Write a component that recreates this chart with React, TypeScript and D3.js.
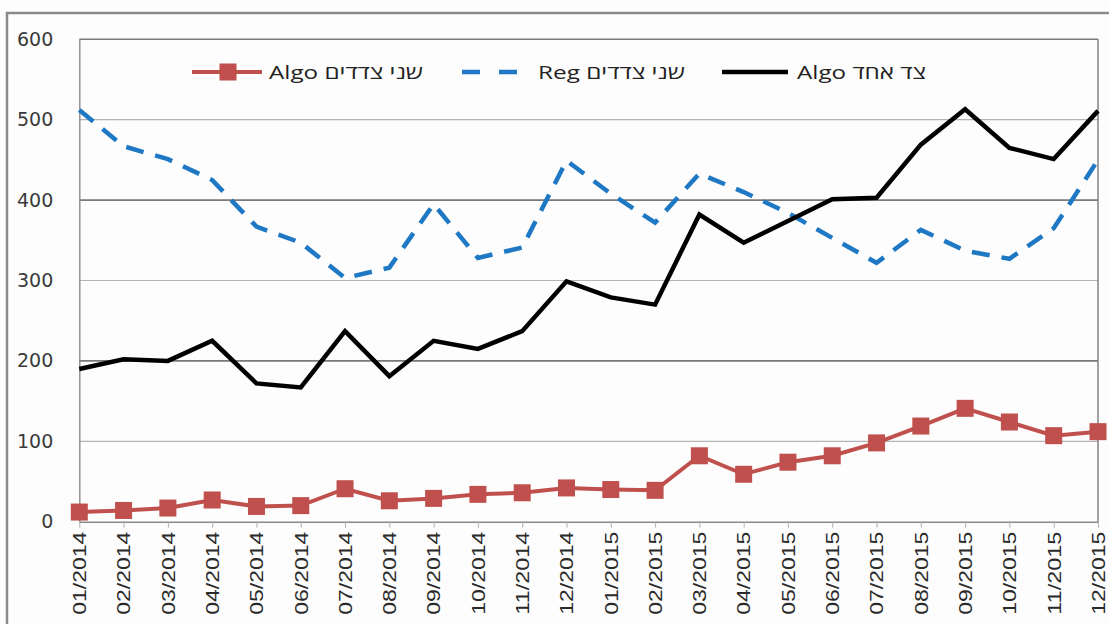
import React, { useRef, useEffect } from 'react';
import * as d3 from 'd3';

const months = [
  '01/2014', '02/2014', '03/2014', '04/2014', '05/2014', '06/2014',
  '07/2014', '08/2014', '09/2014', '10/2014', '11/2014', '12/2014',
  '01/2015', '02/2015', '03/2015', '04/2015', '05/2015', '06/2015',
  '07/2015', '08/2015', '09/2015', '10/2015', '11/2015', '12/2015',
];

// שני צדדים Algo (red, squares)
const algoTwoSides = [12, 14, 17, 27, 19, 20, 41, 26, 29, 34, 36, 42, 40, 39, 82, 59, 74, 82, 98, 119, 141, 124, 107, 112];
// שני צדדים Reg (blue, dashed)
const regTwoSides = [512, 467, 451, 425, 367, 347, 303, 316, 395, 328, 341, 449, 408, 372, 433, 410, 384, 353, 322, 363, 337, 327, 365, 450];
// צד אחד Algo (black)
const algoOneSide = [190, 202, 200, 225, 172, 167, 237, 181, 225, 215, 237, 299, 279, 270, 382, 347, 374, 401, 403, 469, 513, 465, 451, 511];

const yTicks = [0, 100, 200, 300, 400, 500, 600];

const legendLabels = ['Algo שני צדדים', 'Reg שני צדדים', 'Algo צד אחד'];

const width = 1109;
const height = 624;
const margin = { top: 39.3, right: 11, bottom: 102.3, left: 79.3 };

const RED = '#c0504d';
const BLUE = '#1f78c4';

const App = () => {
  const svgRef = useRef<SVGSVGElement>(null);

  useEffect(() => {
    const root = d3.select(svgRef.current);
    root.selectAll('*').remove();

    root.append('rect').attr('width', width).attr('height', height).attr('fill', '#fdfdfd');

    // outer chart frame
    root.append('rect')
      .attr('x', 7).attr('y', 13)
      .attr('width', width + 20).attr('height', height + 20)
      .attr('fill', 'none')
      .attr('stroke', '#8a8a8a')
      .attr('stroke-width', 2.5);

    const w = width - margin.left - margin.right;
    const h = height - margin.top - margin.bottom;

    const x = d3.scalePoint<string>().domain(months).range([0, w]);
    const y = d3.scaleLinear().domain([0, 600]).range([h, 0]);

    const svg = root.append('g').attr('transform', `translate(${margin.left},${margin.top})`);

    // gridlines
    svg.append('g')
      .selectAll('line')
      .data(yTicks.filter(t => t > 0))
      .enter().append('line')
      .attr('x1', 0).attr('x2', w)
      .attr('y1', d => y(d)).attr('y2', d => y(d))
      .attr('stroke', d => (d === 400 || d === 200 || d === 600 ? '#7a7a7a' : '#b4b4b4'))
      .attr('stroke-width', d => (d === 400 || d === 200 || d === 600 ? 1.6 : 1.2));

    // right border of plot
    svg.append('line')
      .attr('x1', w).attr('x2', w).attr('y1', 0).attr('y2', h)
      .attr('stroke', '#7a7a7a').attr('stroke-width', 1.4);

    // y axis
    const yAxis = d3.axisLeft(y).tickValues(yTicks).tickSize(0).tickPadding(26);
    const yg = svg.append('g').call(yAxis);
    yg.select('.domain').attr('stroke', '#8a8a8a').attr('stroke-width', 1.4);
    yg.selectAll('text')
      .attr('font-family', 'DejaVu Sans, Verdana, sans-serif')
      .attr('font-size', 19)
      .attr('fill', '#3a3a3a');

    // x axis
    const xAxis = d3.axisBottom(x).tickSize(6).tickSizeOuter(0).tickPadding(0);
    const xg = svg.append('g').attr('transform', `translate(0,${h})`).call(xAxis);
    xg.select('.domain').attr('stroke', '#8a8a8a').attr('stroke-width', 1.4);
    xg.selectAll('.tick line').attr('stroke', '#b0b0b0');
    xg.selectAll('text')
      .attr('font-family', 'Liberation Sans, Arial, sans-serif')
      .attr('font-size', 18)
      .attr('fill', '#2a2a2a')
      .attr('text-anchor', 'end')
      .attr('dy', '0.35em')
      .attr('transform', 'translate(0,10) rotate(-90)')
      .attr('x', 0)
      .attr('y', 0)
      .attr('textLength', 83)
      .attr('lengthAdjust', 'spacingAndGlyphs');

    const line = d3.line<number>()
      .x((_, i) => x(months[i]) as number)
      .y(d => y(d));

    svg.append('path')
      .datum(regTwoSides)
      .attr('d', line)
      .attr('fill', 'none')
      .attr('stroke', BLUE)
      .attr('stroke-width', 4.5)
      .attr('stroke-dasharray', '18,12');

    svg.append('path')
      .datum(algoOneSide)
      .attr('d', line)
      .attr('fill', 'none')
      .attr('stroke', '#000')
      .attr('stroke-width', 4.5);

    svg.append('path')
      .datum(algoTwoSides)
      .attr('d', line)
      .attr('fill', 'none')
      .attr('stroke', RED)
      .attr('stroke-width', 4);

    const sq = 17;
    svg.append('g')
      .selectAll('rect')
      .data(algoTwoSides)
      .enter().append('rect')
      .attr('x', (_, i) => (x(months[i]) as number) - sq / 2)
      .attr('y', d => y(d) - sq / 2)
      .attr('width', sq)
      .attr('height', sq)
      .attr('fill', RED);

    // legend
    const legendY = 72;
    const legend = root.append('g').attr('font-family', 'Open Sans, Liberation Sans, DejaVu Sans, sans-serif').attr('font-size', 19);

    legend.append('line').attr('x1', 192).attr('x2', 262).attr('y1', legendY).attr('y2', legendY)
      .attr('stroke', RED).attr('stroke-width', 4);
    legend.append('rect').attr('x', 228 - sq / 2).attr('y', legendY - sq / 2).attr('width', sq).attr('height', sq).attr('fill', RED);
    legend.append('text').attr('x', 269).attr('y', legendY).attr('dy', '0.35em').attr('fill', '#222')
      .attr('direction', 'ltr').attr('textLength', 154).attr('lengthAdjust', 'spacingAndGlyphs').text(legendLabels[0]);

    legend.append('line').attr('x1', 462).attr('x2', 517).attr('y1', legendY).attr('y2', legendY)
      .attr('stroke', BLUE).attr('stroke-width', 4.5).attr('stroke-dasharray', '18,19');
    legend.append('text').attr('x', 538).attr('y', legendY).attr('dy', '0.35em').attr('fill', '#222')
      .attr('direction', 'ltr').attr('textLength', 147).attr('lengthAdjust', 'spacingAndGlyphs').text(legendLabels[1]);

    legend.append('line').attr('x1', 722).attr('x2', 788).attr('y1', legendY).attr('y2', legendY)
      .attr('stroke', '#000').attr('stroke-width', 4.5);
    legend.append('text').attr('x', 797).attr('y', legendY).attr('dy', '0.35em').attr('fill', '#222')
      .attr('direction', 'ltr').attr('textLength', 129).attr('lengthAdjust', 'spacingAndGlyphs').text(legendLabels[2]);
  }, []);

  return (
    <svg
      ref={svgRef}
      width={width}
      height={height}
      style={{ position: 'absolute', left: 0, top: 0 }}
    />
  );
};

export default App;
